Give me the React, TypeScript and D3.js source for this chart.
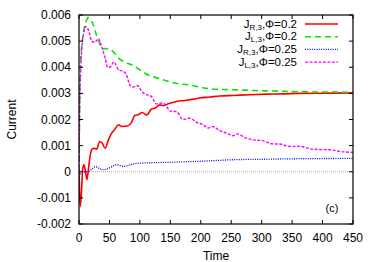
import React, { useEffect, useRef } from "react";
import * as d3 from "d3";

// [time, current]
const jR02: [number, number][] = [
  [0, 0], [1, -0.0008], [2, -0.00133], [4, -0.0008], [6, 0.0001], [8, 0.00027], [10, 0.0001],
  [13, -0.0003], [16, 0.0002], [19, 0.0007], [22, 0.00088], [25, 0.0009], [29, 0.00086],
  [34, 0.00116], [38, 0.0011], [43, 0.0009], [48, 0.0012], [53, 0.00145], [58, 0.0016],
  [65, 0.0018], [70, 0.00173], [81, 0.00176], [86, 0.00188], [92, 0.00216], [97, 0.00218],
  [104, 0.00227], [111, 0.00217], [119, 0.0024], [125, 0.00244], [133, 0.00256],
  [138, 0.00253], [149, 0.00262], [160, 0.00269], [174, 0.00273], [188, 0.00278],
  [198, 0.00282], [215, 0.00286], [231, 0.0029], [253, 0.00292], [280, 0.00295],
  [308, 0.00297], [335, 0.00298], [362, 0.003], [417, 0.00301], [450, 0.00302],
];
const jL02: [number, number][] = [
  [0, 0], [1, 0.0025], [3, 0.0043], [7, 0.0053], [11, 0.0057], [15, 0.0059], [19, 0.0058],
  [24, 0.0056], [29, 0.0052], [34, 0.0049], [38, 0.0047], [44, 0.00472], [48, 0.0047],
  [56, 0.0046], [65, 0.00435], [75, 0.0042], [86, 0.0041], [100, 0.0039], [114, 0.0037],
  [130, 0.00358], [147, 0.00346], [163, 0.00337], [179, 0.00333], [198, 0.00324],
  [220, 0.00316], [253, 0.00314], [286, 0.00311], [319, 0.00309], [363, 0.00306],
  [417, 0.00305], [450, 0.00304],
];
const jR025: [number, number][] = [
  [0, 0], [2, -0.00008], [7, 0], [14, 0], [21, 0.0001], [27, 0.0002], [32, 0.00014],
  [40, 0.00008], [51, 0.00016], [62, 0.00027], [73, 0.0002], [84, 0.00027], [100, 0.00033],
  [128, 0.00035], [144, 0.00036], [171, 0.00038], [198, 0.0004], [253, 0.00046],
  [308, 0.00048], [363, 0.0005], [450, 0.00051],
];
const jL025: [number, number][] = [
  [0, 0], [1, 0.0022], [3, 0.004], [7, 0.0052], [11, 0.00556], [14, 0.0055], [17, 0.0053],
  [21, 0.005], [26, 0.00495], [32, 0.0051], [37, 0.0048], [43, 0.00435], [47, 0.004],
  [51, 0.004], [57, 0.0042], [65, 0.0039], [73, 0.00384], [78, 0.0037], [84, 0.0033],
  [89, 0.00324], [96, 0.0033], [103, 0.00307], [111, 0.00295], [119, 0.00288],
  [127, 0.0026], [138, 0.00263], [144, 0.0025], [149, 0.00233], [160, 0.0023],
  [171, 0.002], [182, 0.00205], [193, 0.00189], [204, 0.0018], [212, 0.00167],
  [220, 0.00173], [231, 0.00157], [242, 0.00148], [253, 0.00138], [261, 0.00145],
  [272, 0.00131], [286, 0.00122], [302, 0.00119], [316, 0.00107], [330, 0.00106],
  [346, 0.00097], [363, 0.00097], [379, 0.00088], [395, 0.00085], [412, 0.00084],
  [428, 0.00078], [450, 0.00074],
];

const xTicks = [0, 50, 100, 150, 200, 250, 300, 350, 400, 450];
const yTicks = [-0.002, -0.001, 0, 0.001, 0.002, 0.003, 0.004, 0.005, 0.006];
const yTickLabels = ["-0.002", "-0.001", "0", "0.001", "0.002", "0.003", "0.004", "0.005", "0.006"];

const series = [
  { data: jR02, sub: "R,3", phi: "0.2", color: "#ff0000", dash: "", width: 1.6 },
  { data: jL02, sub: "L,3", phi: "0.2", color: "#00e800", dash: "6,4", width: 1.6 },
  { data: jR025, sub: "R,3", phi: "0.25", color: "#0000ff", dash: "1,1.3", width: 1.3 },
  { data: jL025, sub: "L,3", phi: "0.25", color: "#ff00ff", dash: "3,1.5", width: 1.4 },
];

const App = () => {
  const svgRef = useRef<SVGSVGElement>(null);

  useEffect(() => {
    const svg = d3.select(svgRef.current);
    svg.selectAll("*").remove();

    const width = 374;
    const height = 262;
    const margin = { top: 15, right: 21, bottom: 38, left: 79 };
    const font = "'Liberation Sans', Arial, sans-serif";

    const x = d3.scaleLinear().domain([0, 450]).range([margin.left, width - margin.right]);
    const y = d3.scaleLinear().domain([-0.002, 0.006]).range([height - margin.bottom, margin.top]);

    svg.attr("width", width).attr("height", height).style("font-family", font);

    // zero line
    svg.append("line")
      .attr("x1", x(0)).attr("x2", x(450))
      .attr("y1", y(0)).attr("y2", y(0))
      .attr("stroke", "#aaa").attr("stroke-width", 1).attr("stroke-dasharray", "1,1");

    svg.append("defs").append("clipPath").attr("id", "clip")
      .append("rect")
      .attr("x", margin.left).attr("y", margin.top)
      .attr("width", width - margin.left - margin.right)
      .attr("height", height - margin.top - margin.bottom);

    const line = d3.line<[number, number]>()
      .x((d) => x(d[0]))
      .y((d) => y(d[1]))
      .curve(d3.curveMonotoneX);

    series.forEach((s) => {
      svg.append("path")
        .datum(s.data)
        .attr("fill", "none")
        .attr("stroke", s.color)
        .attr("stroke-width", s.width)
        .attr("stroke-dasharray", s.dash || null)
        .attr("clip-path", "url(#clip)")
        .attr("d", line);
    });

    // frame
    svg.append("rect")
      .attr("x", margin.left).attr("y", margin.top)
      .attr("width", width - margin.left - margin.right)
      .attr("height", height - margin.top - margin.bottom)
      .attr("fill", "none").attr("stroke", "#000").attr("stroke-width", 1.2);

    const tl = 4;
    const ticks = svg.append("g").attr("stroke", "#000").attr("stroke-width", 1);
    xTicks.forEach((t) => {
      ticks.append("line").attr("x1", x(t)).attr("x2", x(t))
        .attr("y1", y(-0.002)).attr("y2", y(-0.002) - tl);
      ticks.append("line").attr("x1", x(t)).attr("x2", x(t))
        .attr("y1", y(0.006)).attr("y2", y(0.006) + tl);
    });
    yTicks.forEach((t) => {
      ticks.append("line").attr("x1", x(0)).attr("x2", x(0) + tl)
        .attr("y1", y(t)).attr("y2", y(t));
      ticks.append("line").attr("x1", x(450)).attr("x2", x(450) - tl)
        .attr("y1", y(t)).attr("y2", y(t));
    });

    svg.append("g").selectAll("text").data(xTicks).join("text")
      .attr("x", (d) => x(d)).attr("y", height - margin.bottom + 18)
      .attr("text-anchor", "middle").attr("font-size", 12).attr("fill", "#000")
      .text((d) => String(d));

    svg.append("g").selectAll("text").data(yTicks).join("text")
      .attr("x", margin.left - 8).attr("y", (d) => y(d) + 4)
      .attr("text-anchor", "end").attr("font-size", 12).attr("fill", "#000")
      .text((d, i) => yTickLabels[i]);

    svg.append("text")
      .attr("x", x(225)).attr("y", 260)
      .attr("text-anchor", "middle").attr("font-size", 12)
      .text("Time");

    svg.append("text")
      .attr("transform", `translate(16,${(margin.top + height - margin.bottom) / 2}) rotate(-90)`)
      .attr("text-anchor", "middle").attr("font-size", 12)
      .text("Current");

    svg.append("text")
      .attr("x", 332).attr("y", 212)
      .attr("text-anchor", "middle").attr("font-size", 11)
      .text("(c)");

    // legend
    const leg = svg.append("g");
    series.forEach((s, i) => {
      const ly = 24 + i * 12.7;
      const t = leg.append("text")
        .attr("x", 297).attr("y", ly + 3.5)
        .attr("text-anchor", "end").attr("font-size", 11.5);
      t.append("tspan").text("J");
      t.append("tspan").attr("font-size", 8).attr("dy", 2).text(s.sub);
      t.append("tspan").attr("dy", -2).text(`,\u03A6=${s.phi}`);
      leg.append("line")
        .attr("x1", 305).attr("x2", 338).attr("y1", ly).attr("y2", ly)
        .attr("stroke", s.color).attr("stroke-width", s.width)
        .attr("stroke-dasharray", s.dash || null);
    });
  }, []);

  return <svg ref={svgRef} style={{ position: "absolute", left: 0, top: 0 }}></svg>;
};

export default App;
